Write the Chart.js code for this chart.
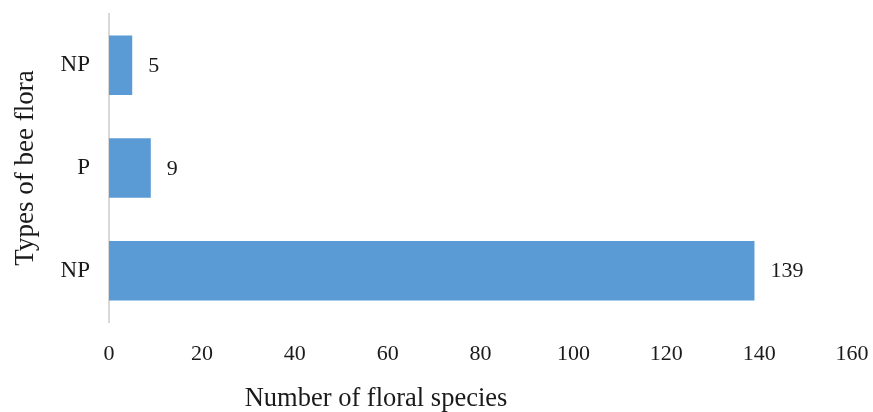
<!DOCTYPE html>
<html>
<head>
<meta charset="utf-8">
<script src="https://cdn.jsdelivr.net/npm/chart.js@4/dist/chart.umd.min.js"></script>
<style>
  html, body { margin: 0; padding: 0; background: #ffffff; }
  #wrap { width: 873px; height: 412px; }
</style>
</head>
<body>
<div id="wrap"><canvas id="chart" width="873" height="412"></canvas></div>
<script>
// Bee flora types and number of floral species in each
const categories = ['NP', 'P', 'NP'];
const speciesCounts = [5, 9, 139];
const xTicks = [0, 20, 40, 60, 80, 100, 120, 140, 160];
const xTitle = 'Number of floral species';
const yTitle = 'Types of bee flora';

const serif = '"Liberation Serif", "Times New Roman", serif';
const textColor = '#1a1a1a';

// Writes each bar's value just past its end
const valueLabels = {
  id: 'valueLabels',
  afterDatasetsDraw(chart) {
    const ctx = chart.ctx;
    const meta = chart.getDatasetMeta(0);
    ctx.save();
    ctx.font = '22px ' + serif;
    ctx.fillStyle = textColor;
    ctx.textAlign = 'left';
    ctx.textBaseline = 'middle';
    meta.data.forEach((bar, i) => {
      ctx.fillText(String(speciesCounts[i]), bar.x + 16, bar.y + 1);
    });
    ctx.restore();
  }
};

// Horizontal axis caption, set left of the plot centre
const xCaption = {
  id: 'xCaption',
  afterDraw(chart) {
    const ctx = chart.ctx;
    const xs = chart.scales.x;
    ctx.save();
    ctx.font = '26.5px ' + serif;
    ctx.fillStyle = textColor;
    ctx.textAlign = 'center';
    ctx.textBaseline = 'middle';
    ctx.fillText(xTitle, xs.getPixelForValue(57.5), 399);
    ctx.restore();
  }
};

new Chart(document.getElementById('chart'), {
  type: 'bar',
  data: {
    labels: categories,
    datasets: [{
      data: speciesCounts,
      backgroundColor: '#5b9bd5',
      borderWidth: 0,
      barPercentage: 0.58,
      categoryPercentage: 1.0
    }]
  },
  options: {
    indexAxis: 'y',
    responsive: false,
    animation: false,
    layout: { padding: { top: 14, right: 21, left: 0, bottom: 0 } },
    plugins: {
      legend: { display: false },
      tooltip: { enabled: false }
    },
    scales: {
      x: {
        min: 0,
        max: 160,
        afterBuildTicks(scale) {
          scale.ticks = xTicks.map(v => ({ value: v }));
        },
        afterFit(scale) {
          scale.height = 90;
          scale.paddingLeft = 0;
          scale.paddingRight = 0;
        },
        grid: { display: false, drawTicks: false },
        border: { display: false },
        ticks: {
          padding: 19,
          color: textColor,
          font: { family: serif, size: 22 },
          maxRotation: 0
        }
      },
      y: {
        afterFit(scale) {
          scale.width = 109;
          scale.paddingTop = 0;
          scale.paddingBottom = 0;
        },
        grid: { display: false, drawTicks: false },
        border: { display: true, color: '#d9d9d9', width: 2 },
        ticks: {
          padding: 19,
          color: textColor,
          font: { family: serif, size: 23 }
        },
        title: {
          display: true,
          text: yTitle,
          color: textColor,
          font: { family: serif, size: 27, weight: 'normal' },
          padding: { top: 10, bottom: 0 }
        }
      }
    }
  },
  plugins: [valueLabels, xCaption]
});
</script>
</body>
</html>
